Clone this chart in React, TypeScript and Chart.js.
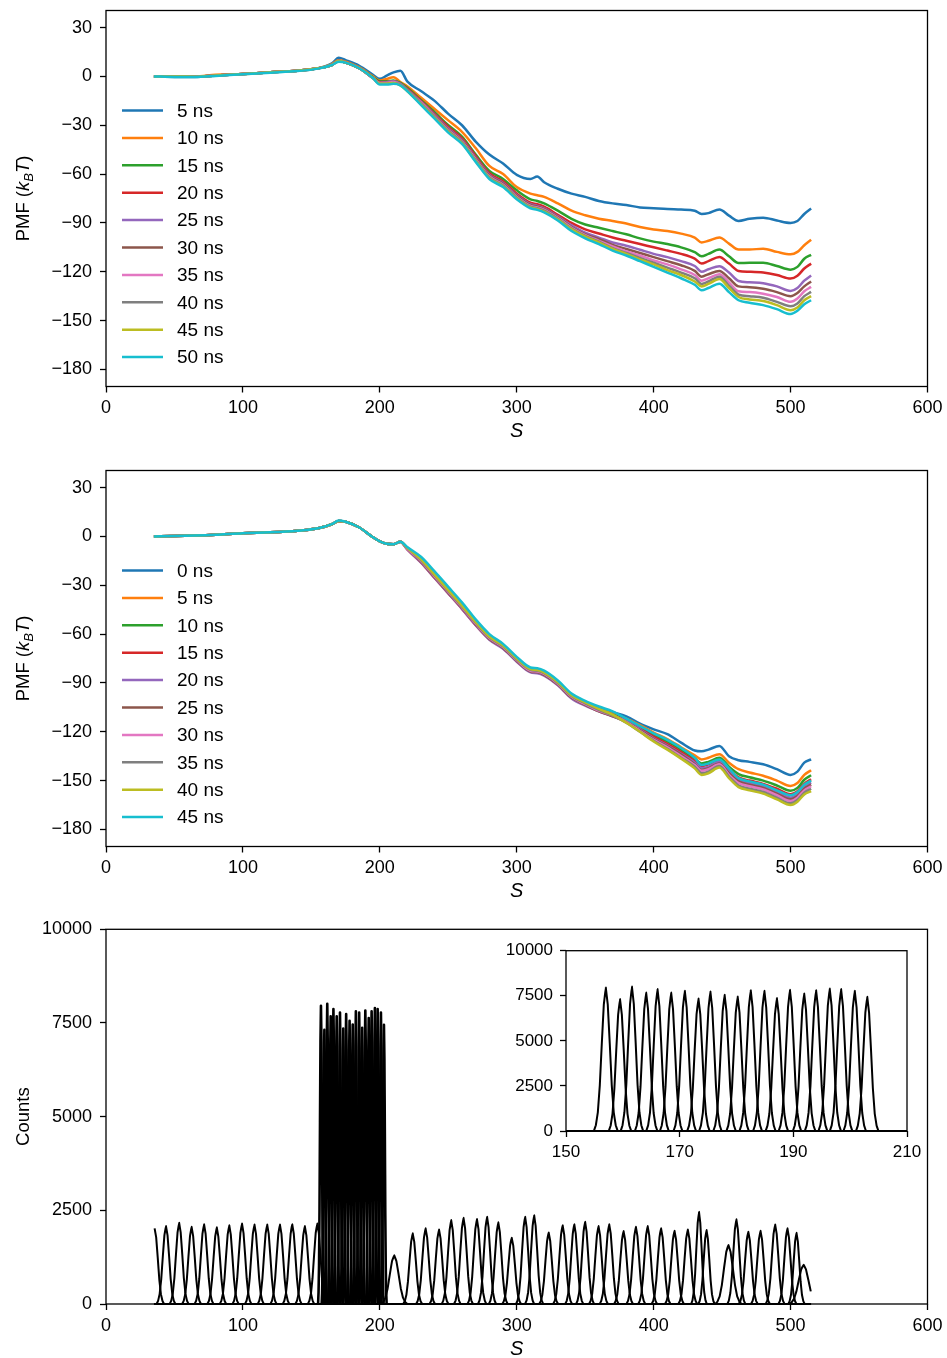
import React, { useEffect, useRef } from 'react';
import { Chart, registerables } from 'chart.js';

Chart.register(...registerables);

const FONT = '"Liberation Sans", Arial, Helvetica, sans-serif';
const TAB10 = ['#1f77b4', '#ff7f0e', '#2ca02c', '#d62728', '#9467bd', '#8c564b', '#e377c2', '#7f7f7f', '#bcbd22', '#17becf'];

// ---------- shared S grid for the PMF curves ----------
const S_GRID = [35, 50, 65, 80, 100, 120, 140, 155, 165, 170, 175, 185, 195, 200, 205, 210, 215, 220, 230, 240, 250, 260, 270, 280, 290, 300, 310, 315, 320, 330, 340, 350, 360, 370, 380, 390, 400, 410, 420, 430, 435, 440, 448, 455, 462, 470, 480, 490, 500, 505, 510, 515];

// ---------- panel 1 (cumulative) ----------
const PMF_A_LABELS = ['5 ns', '10 ns', '15 ns', '20 ns', '25 ns', '30 ns', '35 ns', '40 ns', '45 ns', '50 ns'];
const PMF_A_05 = [0, -0.3, -0.3, 0.5, 1.5, 2.5, 3.5, 5, 8, 11.5, 10, 6.5, 1, -1.5, 0.5, 2.5, 3.5, -3, -9, -15, -23, -30, -40, -48, -53.5, -60.5, -63, -61.5, -65, -69, -72, -74, -76.5, -78, -79, -80.5, -81, -81.5, -81.8, -82.5, -84.5, -84, -81.8, -85.5, -88.8, -87.5, -86.8, -88.5, -90, -88.8, -84.5, -81.2];
const PMF_A_10 = [0, 0, 0, 1, 1.5, 2.5, 3.5, 5, 7.5, 10, 9, 5.5, 0, -2.5, -1.5, -0.5, -3.5, -6, -13, -20, -27, -34, -44, -55, -60, -68, -72, -73, -74, -78, -82.5, -85.3, -87.4, -88.8, -90.4, -92.5, -94, -95, -96.6, -99, -102, -101, -99, -102.7, -106.4, -106.4, -105.8, -107.8, -109.3, -107.8, -103.7, -100.3];
const PMF_A_15 = [0, 0, -0.2, 0.5, 1.5, 2.5, 3.5, 5, 7, 9.5, 8.5, 5, -0.5, -3, -3, -2.5, -4, -7, -14.5, -22, -30, -37, -48, -58, -63, -70, -75.5, -76.5, -78, -82.5, -87.5, -91, -93, -95, -97, -99.5, -101.5, -103, -105, -108, -110.5, -109, -106.4, -110.5, -114.6, -114.5, -114.5, -116.5, -118.7, -117, -112, -109.6];
const PMF_A_20 = [0, 0, -0.2, 0.5, 1.5, 2.5, 3.5, 5, 7, 9.5, 8.5, 5, -1, -3.5, -3.5, -3, -4.5, -7.5, -15, -23, -31, -38, -49, -59.5, -64.5, -72, -77.5, -78.5, -80, -85, -90, -94, -96.5, -99, -101, -103, -105, -107, -109, -112, -115, -113.5, -111, -115, -119.5, -120, -120.5, -122, -124.2, -122.5, -118, -115];
const PMF_A_25 = [0, 0, -0.2, 0.5, 1.5, 2.5, 3.5, 5, 7, 9.5, 8.5, 5, -1, -4, -3.5, -3, -4.5, -8, -15.5, -23.5, -32, -39, -50, -60.5, -65.5, -73, -78.5, -79.5, -81, -86, -91.5, -96, -99, -102, -104, -106.5, -109, -111, -113.5, -116.5, -120, -118.5, -116.6, -120.5, -125.7, -126.5, -127, -129, -131.8, -130, -125.5, -122.3];
const PMF_A_30 = [0, 0, -0.2, 0.5, 1.5, 2.5, 3.5, 5, 7, 9.5, 8.5, 5, -1, -4, -4, -3.5, -5, -8, -16, -24, -32.5, -39.5, -50.5, -61, -66, -73.5, -79, -80, -81.5, -86.5, -92.5, -97, -100, -103.5, -106, -108.5, -111, -113.5, -116, -119.5, -123, -121.5, -119.5, -124, -129, -129.5, -130.5, -132.5, -135, -133, -129, -126];
const PMF_A_35 = [0, 0, -0.2, 0.5, 1.5, 2.5, 3.5, 5, 7, 9.5, 8.5, 5, -1, -4, -4, -3.5, -5, -8.5, -16, -24.5, -33, -40, -51, -61.5, -66.5, -74, -79.5, -80.5, -82, -87, -93, -97.5, -101, -104.5, -107.5, -110, -113, -115.5, -118.5, -122, -125.5, -124, -121.5, -126.5, -132, -132.5, -133.5, -135.5, -138.5, -136.5, -132, -129.3];
const PMF_A_40 = [0, 0, -0.2, 0.5, 1.5, 2.5, 3.5, 5, 7, 9.5, 8.5, 5, -1, -4.5, -4.5, -4, -5, -8.5, -16.5, -25, -33.5, -40.5, -51.5, -62, -67, -74.5, -80, -81, -82.5, -87.5, -93.5, -98, -101.5, -105.5, -108.5, -111.5, -114.5, -117.5, -120.5, -124, -127.5, -126, -123, -128.5, -134, -135, -136, -138.5, -141.2, -139.5, -135, -132.4];
const PMF_A_45 = [0, 0, -0.2, 0.5, 1.5, 2.5, 3.5, 5, 7, 9.5, 8.5, 5, -1, -4.5, -4.5, -4, -5.5, -9, -17, -25.5, -34, -41, -52, -62.5, -67.5, -75, -80.5, -81.5, -83, -88, -94, -98.5, -102, -106, -109, -112.5, -115.5, -119, -122, -126, -129, -127.5, -124.5, -130, -135.5, -137, -138, -140.5, -143.6, -142, -137.5, -135];
const PMF_A_50 = [0, -0.3, -0.3, 0.3, 1.3, 2.3, 3.3, 4.8, 7, 9, 8.5, 5, -1, -5, -5, -4.5, -5.5, -9, -17.5, -26, -34.5, -41.5, -52.5, -63, -68, -75.5, -81, -82, -83.5, -88.5, -95, -99.5, -103, -107, -110, -113.5, -117, -120.5, -124, -128, -131.4, -130, -127.3, -132.5, -137.5, -139, -140.5, -143, -146, -144, -140, -137.5];

// ---------- panel 2 (sliding start) ----------
const PMF_B_LABELS = ['0 ns', '5 ns', '10 ns', '15 ns', '20 ns', '25 ns', '30 ns', '35 ns', '40 ns', '45 ns'];
const PMF_B_00 = [0, 0.2, 0.5, 1, 2, 2.5, 3.5, 5, 7.5, 9.5, 9, 5.5, -0.5, -3, -4.5, -4.8, -3.3, -7, -13.5, -22.5, -32, -41.5, -52, -61, -67, -75, -81.5, -82, -83.5, -89.5, -97.5, -102, -105.5, -108, -110.5, -115, -118.5, -121.5, -126.7, -131.5, -132, -131, -128.7, -135, -137.5, -138.5, -140, -143, -146.5, -144.5, -139, -137];
const PMF_B_05 = [0, 0.2, 0.5, 1, 2, 2.5, 3.5, 5, 7.5, 9.5, 9, 5.5, -0.5, -3, -4.5, -4.8, -3.3, -7, -14, -23, -32.5, -42, -52.5, -61.5, -67.5, -75.5, -82, -82.5, -84, -90, -98, -102.5, -106, -109, -112, -116, -120.5, -124.5, -129.5, -134.5, -137, -136, -133.8, -139, -143, -145, -147, -150, -153.3, -151.5, -146.5, -143.6];
const PMF_B_10 = [0, 0.2, 0.5, 1, 2, 2.5, 3.5, 5, 7.5, 9.5, 9, 5.5, -0.5, -3, -4.5, -4.8, -3.3, -7.5, -15, -24.5, -34, -43.5, -53.5, -62.5, -68, -76, -82.5, -83, -84.5, -90.5, -98.5, -103, -106.5, -109.5, -112.5, -117, -122, -126, -131, -136.5, -139.5, -138.5, -136, -141.5, -146, -148, -150, -153, -156.3, -154.5, -149.5, -146.7];
const PMF_B_15 = [0, 0.2, 0.5, 1, 2, 2.5, 3.5, 5, 7.5, 9.5, 9, 5.5, -0.5, -3, -4.5, -4.8, -3.3, -8, -16, -25.5, -35, -44.5, -54.5, -63, -68.5, -76.5, -83, -83.5, -85, -91, -99, -103.5, -107, -110, -113, -118, -123, -127.5, -132.5, -138, -141, -140, -137.5, -143, -148, -150, -152, -155, -158.4, -156.5, -152, -149.2];
const PMF_B_20 = [0, 0.2, 0.5, 1, 2, 2.5, 3.5, 5, 7.5, 9.5, 9, 5.5, -0.5, -3, -4.5, -4.8, -3.3, -8, -16, -25.5, -35, -44.5, -54.5, -63.5, -69, -77, -83.5, -84, -85.5, -91.5, -99.5, -104, -107.5, -110.5, -113.5, -118.5, -124, -128.5, -133.5, -139, -142.5, -141.5, -138.5, -144.5, -149.5, -151.5, -153.5, -157, -160.4, -158.5, -154, -151.2];
const PMF_B_25 = [0, 0.2, 0.5, 1, 2, 2.5, 3.5, 5, 7.5, 9.5, 9, 5.5, -0.5, -3, -4.5, -4.8, -3.3, -7.5, -15.5, -25, -34.5, -44, -54, -63, -68.5, -76.5, -83, -83.5, -85, -91, -99, -103.5, -107.5, -110.5, -114, -119, -124.5, -129, -134, -140, -143.5, -142.5, -139.5, -145.5, -150.5, -152.5, -154.5, -158, -161.5, -159.5, -155, -152.5];
const PMF_B_30 = [0, 0.2, 0.5, 1, 2, 2.5, 3.5, 5, 7.5, 9.5, 9, 5.5, -0.5, -3, -4.5, -4.8, -3.3, -7.5, -15, -24.5, -34, -43.5, -53.5, -62.5, -68, -76, -82.5, -83, -84.5, -90.5, -98.5, -103, -107, -110, -114, -119.5, -125, -129.5, -135, -140.5, -144, -143, -140, -146.5, -151.5, -153.5, -155.5, -159, -162.5, -160.5, -156, -153.5];
const PMF_B_35 = [0, 0.2, 0.5, 1, 2, 2.5, 3.5, 5, 7.5, 9.5, 9, 5.5, -0.5, -3, -4.5, -4.8, -3.3, -7, -14.5, -24, -33.5, -43, -53, -62, -67.5, -75.5, -82, -82.5, -84, -90, -98, -102.5, -106.5, -110, -114.5, -120, -125.5, -130.5, -136, -141.5, -145.5, -144.5, -141, -147.5, -153, -155, -157, -160.5, -164, -162, -157.5, -155];
const PMF_B_40 = [0, 0.2, 0.5, 1, 2, 2.5, 3.5, 5, 7.5, 9.5, 9, 5.5, -0.5, -3, -4.5, -4.8, -3.3, -7, -14, -23.5, -33, -42.5, -52.5, -61.5, -67, -75, -81.5, -82, -83.5, -89.5, -97.5, -102, -106, -109.5, -114.5, -120, -126, -131, -136.5, -142.5, -146.5, -145.5, -142, -148.5, -154, -156, -158, -161.5, -165, -163, -158.5, -156.5];
const PMF_B_45 = [0, 0.2, 0.5, 1, 2, 2.5, 3.5, 5, 7.5, 9.8, 9, 5.5, -0.5, -3, -4.5, -4.8, -3.3, -6.5, -12.5, -21.5, -31, -40.5, -51, -60, -66, -74, -80.5, -81, -82.5, -88.5, -96.5, -101, -104.5, -107.5, -112, -116.5, -121, -125, -130, -136, -140.5, -139.5, -137, -142.5, -148.5, -150.5, -152.5, -156, -159, -157, -152.5, -150];

// ---------- panel 3 (umbrella window histograms) ----------
const S_RANGE = [35, 515];
const WIDE_CENTERS = [35.5, 43.8, 53.4, 62.5, 71.6, 80.9, 90, 99.3, 108.4, 117.7, 127, 136, 145.2, 154.3, 210.5, 224, 233.4, 243.2, 252.1, 261.1, 270.9, 278.3, 286.5, 296.3, 306.1, 312.7, 323.3, 333.5, 342, 349.9, 359.7, 367.5, 378, 387, 395.6, 405.4, 415.2, 424.9, 433.1, 438.6, 454.6, 460.4, 469.1, 478, 488.7, 497.7, 504.3, 509.5];
const WIDE_HEIGHTS = [2020, 2080, 2170, 2060, 2130, 2045, 2105, 2150, 2125, 2125, 2125, 2130, 2080, 2150, 1300, 1885, 2020, 1990, 2240, 2300, 2270, 2330, 2180, 1770, 2330, 2370, 1910, 2105, 2130, 2195, 2080, 2130, 1945, 2060, 2080, 2020, 1955, 1990, 2460, 1975, 1575, 2260, 1930, 1955, 2125, 2020, 1900, 1050];
const WIDE_SIGMAS = [2.3, 2.3, 2.3, 2.3, 2.3, 2.3, 2.3, 2.3, 2.3, 2.3, 2.3, 2.3, 2.3, 2.3, 3.2, 2.3, 2.3, 2.3, 2.3, 2.3, 2.3, 2.2, 2.3, 2.3, 2.2, 2.2, 2.3, 2.3, 2.2, 2.2, 2.3, 2.3, 2.3, 2.3, 2.3, 2.3, 2.3, 2.3, 1.9, 2.0, 3.2, 2.2, 2.3, 2.3, 2.3, 2.2, 2.0, 3.5];
const DENSE_CENTERS = [157, 159.5, 161.6, 164.1, 166.1, 168.5, 170.9, 173.3, 175.4, 177.9, 180.2, 182.5, 184.9, 187.1, 189.4, 191.9, 194.0, 196.4, 198.4, 200.8, 203.0];
const DENSE_HEIGHTS = [7960, 7320, 8010, 7680, 7870, 7680, 7780, 7350, 7740, 7560, 7460, 7810, 7780, 7370, 7830, 7630, 7810, 7900, 7870, 7780, 7450];
const DENSE_SIGMAS = [0.7, 0.66, 0.66, 0.66, 0.66, 0.66, 0.66, 0.66, 0.66, 0.66, 0.66, 0.66, 0.66, 0.66, 0.66, 0.66, 0.66, 0.66, 0.66, 0.66, 0.66];
// outline of one window histogram (offset in widths, fraction of the peak)
const PEAK_SHAPE_OFFSETS = [-3, -2.5, -2, -1.5, -1, -0.5, 0, 0.5, 1, 1.5, 2, 2.5, 3];
const PEAK_SHAPE_FRACTIONS = [0, 0.04, 0.13, 0.32, 0.61, 0.88, 1, 0.88, 0.61, 0.32, 0.13, 0.04, 0];

// ---------- ticks ----------
const X_TICKS = [0, 100, 200, 300, 400, 500, 600];
const PMF_Y_TICKS = [-180, -150, -120, -90, -60, -30, 0, 30];
const COUNT_Y_TICKS = [0, 2500, 5000, 7500, 10000];
const INSET_X_TICKS = [150, 170, 190, 210];

const fmt = (v: number) => (v < 0 ? '\u2212' + String(-v) : String(v));

function peakPoints(c: number, h: number, sig: number, lo: number, hi: number) {
  return PEAK_SHAPE_OFFSETS.map((o, k) => ({ x: c + o * sig, y: h * PEAK_SHAPE_FRACTIONS[k] })).filter(
    (p) => p.x >= lo && p.x <= hi
  );
}

type Area = { left: number; top: number; right: number; bottom: number };

const framePlugin = {
  id: 'frameBox',
  afterDatasetsDraw(chart: any) {
    const { ctx, chartArea: a } = chart;
    ctx.save();
    ctx.strokeStyle = '#000';
    ctx.lineWidth = 1.3;
    ctx.strokeRect(a.left, a.top, a.right - a.left, a.bottom - a.top);
    ctx.restore();
  },
};

function textPlugin(opts: { xLabel?: boolean; yLabel?: 'pmf' | 'counts'; legend?: { labels: string[]; colors: string[] } }) {
  return {
    id: 'texts',
    afterDraw(chart: any) {
      const { ctx, chartArea: a } = chart;
      ctx.save();
      ctx.fillStyle = '#000';
      if (opts.xLabel) {
        ctx.font = `italic 20px ${FONT}`;
        ctx.textAlign = 'center';
        ctx.textBaseline = 'middle';
        ctx.fillText('S', (a.left + a.right) / 2, a.bottom + 45);
      }
      if (opts.yLabel) {
        ctx.save();
        ctx.translate(22, (a.top + a.bottom) / 2);
        ctx.rotate(-Math.PI / 2);
        ctx.textBaseline = 'alphabetic';
        ctx.textAlign = 'left';
        const parts =
          opts.yLabel === 'pmf'
            ? [
                { t: 'PMF (', f: `18.5px ${FONT}`, dy: 0 },
                { t: 'k', f: `italic 18.5px ${FONT}`, dy: 0 },
                { t: 'B', f: `italic 13px ${FONT}`, dy: 4 },
                { t: 'T', f: `italic 18.5px ${FONT}`, dy: 0 },
                { t: ')', f: `18.5px ${FONT}`, dy: 0 },
              ]
            : [{ t: 'Counts', f: `18.5px ${FONT}`, dy: 0 }];
        let total = 0;
        const widths = parts.map((p) => {
          ctx.font = p.f;
          const w = ctx.measureText(p.t).width;
          total += w;
          return w;
        });
        let x = -total / 2;
        parts.forEach((p, i) => {
          ctx.font = p.f;
          ctx.fillText(p.t, x, 6.5 + p.dy);
          x += widths[i];
        });
        ctx.restore();
      }
      if (opts.legend) {
        const { labels, colors } = opts.legend;
        labels.forEach((lab, i) => {
          const y = a.top + 100 + i * 27.4;
          ctx.strokeStyle = colors[i];
          ctx.lineWidth = 2.5;
          ctx.beginPath();
          ctx.moveTo(a.left + 16, y);
          ctx.lineTo(a.left + 57, y);
          ctx.stroke();
          ctx.font = `19px ${FONT}`;
          ctx.textAlign = 'left';
          ctx.textBaseline = 'middle';
          ctx.fillText(lab, a.left + 71, y + 1);
        });
      }
      ctx.restore();
    },
  };
}

function axisOptions(kind: 'x' | 'y', min: number, max: number, ticks: number[], size: number, fit: (s: any) => void, pad: number) {
  return {
    type: 'linear' as const,
    position: kind === 'x' ? 'bottom' : 'left',
    min,
    max,
    afterBuildTicks: (s: any) => {
      s.ticks = ticks.map((v) => ({ value: v }));
    },
    afterFit: (s: any) => {
      fit(s);
      s.paddingTop = 0;
      s.paddingBottom = 0;
      s.paddingLeft = 0;
      s.paddingRight = 0;
    },
    ticks: {
      autoSkip: false,
      maxRotation: 0,
      color: '#000',
      padding: pad,
      font: { family: FONT, size, lineHeight: 1 },
      callback: (v: any) => fmt(Number(v)),
    },
    grid: {
      display: true,
      drawOnChartArea: false,
      drawTicks: true,
      tickLength: 6,
      tickWidth: 1.3,
      tickColor: '#000',
      color: '#000',
    },
    border: { display: false },
  };
}

function buildChart(
  canvas: HTMLCanvasElement,
  w: number,
  h: number,
  area: Area,
  xr: [number, number],
  xt: number[],
  yr: [number, number],
  yt: number[],
  size: number,
  datasets: any[],
  plugins: any[]
) {
  return new Chart(canvas, {
    type: 'line',
    data: { datasets },
    options: {
      responsive: false,
      animation: false,
      devicePixelRatio: 1,
      events: [],
      parsing: false,
      normalized: true,
      layout: { padding: { left: 0, top: area.top, right: w - area.right, bottom: 0 } },
      plugins: { legend: { display: false }, tooltip: { enabled: false }, title: { display: false } },
      scales: {
        x: axisOptions('x', xr[0], xr[1], xt, size, (s: any) => { s.height = h - area.bottom; }, 7),
        y: axisOptions('y', yr[0], yr[1], yt, size, (s: any) => { s.width = area.left; }, size < 18 ? 7 : 8),
      },
    } as any,
    plugins,
  });
}

function pmfDatasets(series: number[][]) {
  const n = series.length;
  return series.map((vals, i) => ({
    data: S_GRID.map((s, k) => ({ x: s, y: vals[k] })),
    borderColor: TAB10[i],
    borderWidth: 2.5,
    pointRadius: 0,
    cubicInterpolationMode: 'monotone',
    fill: false,
    order: n - i,
    clip: false,
  }));
}

// a tiny tension keeps Chart.js off its pixel-collapsing fast path, so narrow peaks keep their width
const histStyle = { borderColor: '#000', borderWidth: 2, pointRadius: 0, tension: 0.0001, fill: false, borderJoinStyle: 'round', clip: false };

export default function App() {
  const c1 = useRef<HTMLCanvasElement>(null);
  const c2 = useRef<HTMLCanvasElement>(null);
  const c3 = useRef<HTMLCanvasElement>(null);
  const c4 = useRef<HTMLCanvasElement>(null);

  useEffect(() => {
    Chart.defaults.font.family = FONT;
    Chart.defaults.color = '#000';
    const charts: Chart[] = [];

    const seriesA = [PMF_A_05, PMF_A_10, PMF_A_15, PMF_A_20, PMF_A_25, PMF_A_30, PMF_A_35, PMF_A_40, PMF_A_45, PMF_A_50];
    const seriesB = [PMF_B_00, PMF_B_05, PMF_B_10, PMF_B_15, PMF_B_20, PMF_B_25, PMF_B_30, PMF_B_35, PMF_B_40, PMF_B_45];
    const pmfArea: Area = { left: 106, top: 10.5, right: 927.5, bottom: 386.5 };

    if (c1.current)
      charts.push(
        buildChart(c1.current, 947, 455, pmfArea, [0, 600], X_TICKS, [-190.5, 40.5], PMF_Y_TICKS, 18, pmfDatasets(seriesA), [
          framePlugin,
          textPlugin({ xLabel: true, yLabel: 'pmf', legend: { labels: PMF_A_LABELS, colors: TAB10 } }),
        ])
      );
    if (c2.current)
      charts.push(
        buildChart(c2.current, 947, 455, pmfArea, [0, 600], X_TICKS, [-190.5, 40.5], PMF_Y_TICKS, 18, pmfDatasets(seriesB), [
          framePlugin,
          textPlugin({ xLabel: true, yLabel: 'pmf', legend: { labels: PMF_B_LABELS, colors: TAB10 } }),
        ])
      );

    const baseline = { ...histStyle, data: [{ x: S_RANGE[0], y: 0 }, { x: S_RANGE[1], y: 0 }] };
    const wide = WIDE_CENTERS.map((c, i) => ({
      ...histStyle,
      data: peakPoints(c, WIDE_HEIGHTS[i], WIDE_SIGMAS[i], S_RANGE[0], S_RANGE[1]),
    }));
    const dense = DENSE_CENTERS.map((c, i) => ({
      ...histStyle,
      borderWidth: 2.6,
      data: peakPoints(c, DENSE_HEIGHTS[i], DENSE_SIGMAS[i], S_RANGE[0], S_RANGE[1]),
    }));
    if (c3.current)
      charts.push(
        buildChart(
          c3.current,
          947,
          439,
          { left: 106, top: 10.3, right: 927.5, bottom: 385 },
          [0, 600],
          X_TICKS,
          [0, 10000],
          COUNT_Y_TICKS,
          18,
          [baseline, ...wide, ...dense],
          [framePlugin, textPlugin({ xLabel: true, yLabel: 'counts' })]
        )
      );

    const insetBase = { ...histStyle, data: [{ x: INSET_X_TICKS[0], y: 0 }, { x: INSET_X_TICKS[INSET_X_TICKS.length - 1], y: 0 }] };
    const insetDense = DENSE_CENTERS.map((c, i) => ({
      ...histStyle,
      data: peakPoints(c, DENSE_HEIGHTS[i], DENSE_SIGMAS[i], S_RANGE[0], S_RANGE[1]),
    }));
    if (c4.current)
      charts.push(
        buildChart(
          c4.current,
          447,
          250,
          { left: 86, top: 25.7, right: 427, bottom: 206 },
          [150, 210],
          INSET_X_TICKS,
          [0, 10000],
          COUNT_Y_TICKS,
          17,
          [insetBase, ...insetDense],
          [framePlugin]
        )
      );

    return () => charts.forEach((c) => c.destroy());
  }, []);

  const abs = (left: number, top: number): React.CSSProperties => ({ position: 'absolute', left, top });
  return (
    <div style={{ position: 'absolute', left: 0, top: 0, width: 947, height: 1358, background: '#fff' }}>
      <canvas ref={c1} width={947} height={455} style={abs(0, 0)} />
      <canvas ref={c2} width={947} height={455} style={abs(0, 460)} />
      <canvas ref={c3} width={947} height={439} style={abs(0, 919)} />
      <canvas ref={c4} width={447} height={250} style={abs(480, 925)} />
    </div>
  );
}
